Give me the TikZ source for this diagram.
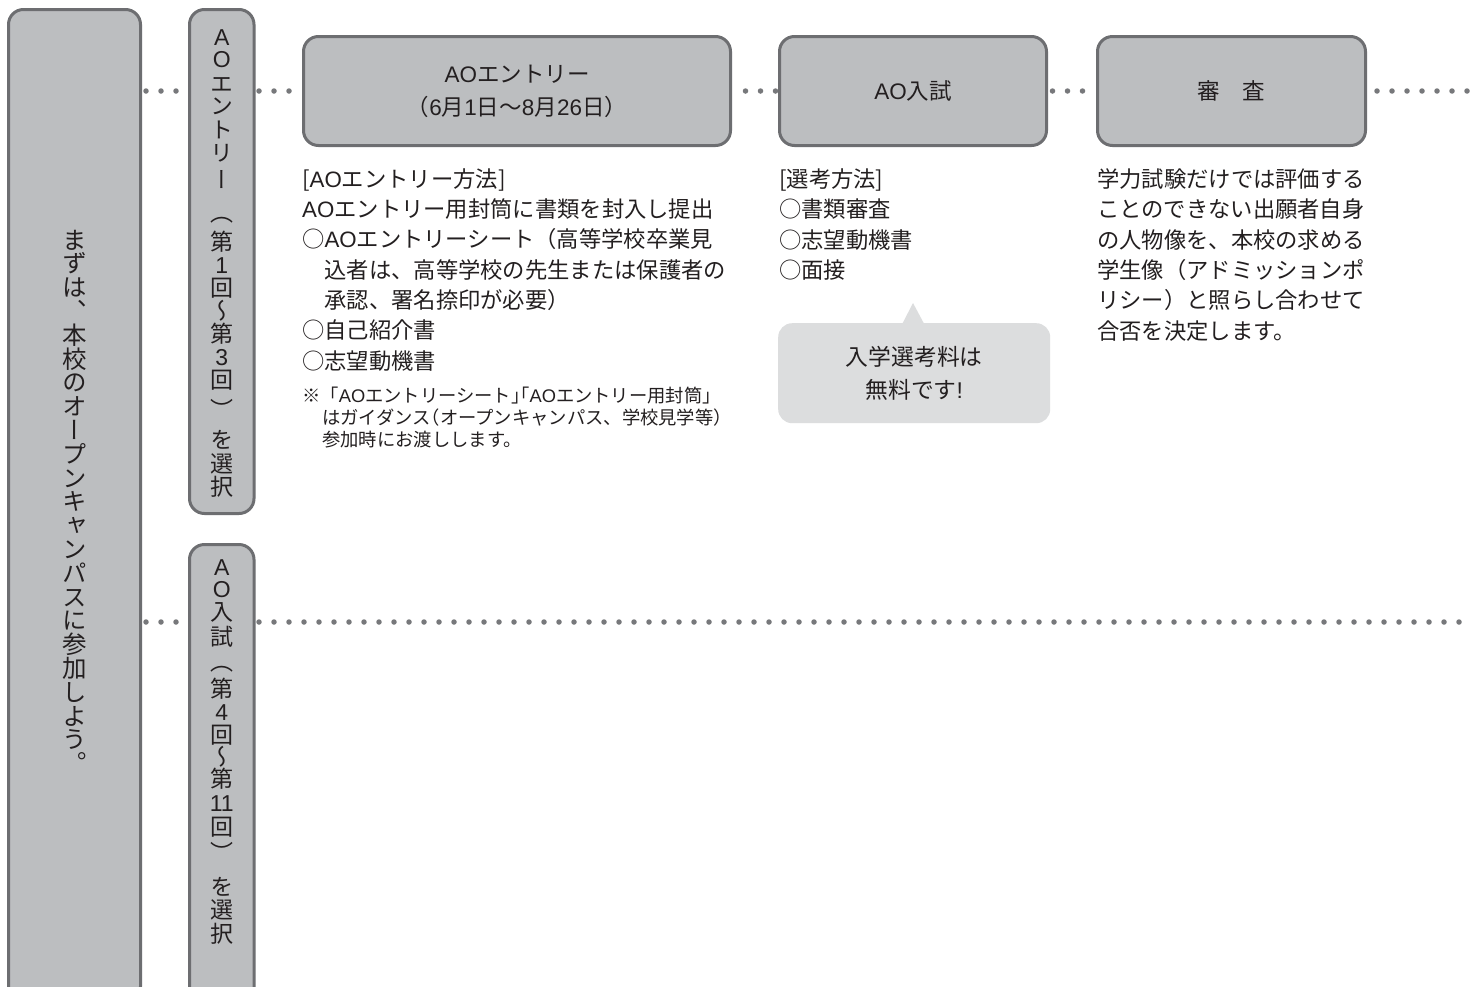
\documentclass[tikz,border=0pt]{standalone}
\usepackage{fontspec}
\setmainfont{Noto Sans CJK JP}
\newfontfamily\jpvert[RawFeature=+vert]{Noto Sans CJK JP}
\newfontfamily\jphalt[RawFeature=+halt]{Noto Sans CJK JP}
\newfontfamily\latfont{Liberation Sans}
\newcommand\la[1]{{\latfont #1}}
\newcommand\hw[1]{{\jphalt #1}}
\usetikzlibrary{calc,backgrounds}
\definecolor{boxfill}{HTML}{BCBEC0}
\definecolor{boxline}{HTML}{6D6E71}
\definecolor{dotc}{HTML}{77787B}
\definecolor{bubblec}{HTML}{DCDDDE}
\definecolor{ink}{HTML}{231F20}
\tikzset{
  box/.style={draw=boxline, fill=boxfill, line width=3pt, rounded corners=15pt,
    inner sep=0pt, anchor=north west, align=center, text=ink,
    font=\fontsize{22.5pt}{33pt}\selectfont},
  dotline/.style={draw=dotc, line width=5.5pt, line cap=round, dash pattern=on 0pt off 15pt},
  body/.style={font=\fontsize{22.3pt}{30.3pt}\selectfont, text=ink, align=left,
    inner sep=0pt, anchor=base west},
  notetext/.style={font=\fontsize{18.3pt}{22pt}\selectfont, text=ink, align=left,
    inner sep=0pt, anchor=base west},
  vchar/.style={font=\jpvert\fontsize{23pt}{23pt}\selectfont, text=ink,
    inner sep=0pt, text height=17pt, text depth=0pt, anchor=center},
  vbig/.style={vchar, font=\jpvert\fontsize{24.5pt}{24.5pt}\selectfont,
    text height=20.5pt, text depth=2.5pt},
  bubble/.style={fill=bubblec, rounded corners=14pt, inner sep=0pt, anchor=north west,
    align=center, text=ink, font=\fontsize{22.8pt}{33pt}\selectfont}
}
\begin{document}
\begin{tikzpicture}[x=1pt,y=-1pt]
\useasboundingbox (0,0) rectangle (1470,986);
% boxes
\node[box, minimum width=132pt, minimum height=992pt] (left) at (7,8) {};
\node[box, minimum width=64.5pt, minimum height=504pt] (v1) at (188,8) {};
\node[box, minimum width=64.5pt, minimum height=460pt] (v2) at (188,543) {};
\node[box, minimum width=427pt, minimum height=109pt] (entry) at (302,35) {\la{AO}エントリー\\（\la{6}月\la{1}日〜\la{8}月\la{26}日）};
\node[box, minimum width=267pt, minimum height=109pt] (exam) at (778,35) {\la{AO}入試};
\node[box, minimum width=268pt, minimum height=109pt] (review) at (1096,35) {審　査};
\coordinate (topend) at (1472,91);
\coordinate (lowend) at (1472,622);
% dotted connectors
\begin{pgfonlayer}{background}
\fill[white] (0,0) rectangle (1470,986);
\draw[dotline, dash phase=11pt] (left.east |- exam.west) -- (v1.west |- exam.west);
\draw[dotline, dash phase=11.5pt] (v1.east |- exam.west) -- (entry.west);
\draw[dotline, dash phase=1.5pt] (entry.east) -- (exam.west);
\draw[dotline, dash phase=10.5pt] (exam.east) -- (review.west);
\draw[dotline, dash phase=5pt] (review.east) -- (topend);
\draw[dotline, dash phase=11pt] (left.east |- lowend) -- (v2.west |- lowend);
\draw[dotline, dash phase=11.5pt] (v2.east |- lowend) -- (lowend);
\end{pgfonlayer}
% vertical texts
\foreach \c [count=\i] in {ま,ず,は,、,本,校,の,オ,ー,プ,ン,キ,ャ,ン,パ,ス,に,参,加,し,よ,う,。}
  \node[vbig, name=vl\i] at (74.5, {240+(\i-1)*23.8}) {\c};
\foreach \c/\y [count=\i] in {\la{A}/37,\la{O}/59,エ/84,ン/106,ト/130,リ/153,ー/180,（/213,第/242,\la{1}/265,回/288,〜/311,第/334,\la{3}/357,回/380,）/410,を/440,選/464,択/487}
  \node[vchar, name=va\i] at (221.75,\y) {\c};
\foreach \c/\y [count=\i] in {\la{A}/567,\la{O}/589,入/612,試/637,（/662,第/689,\la{4}/712,回/735,〜/757,第/779,\la{11}/803,回/827,）/853,を/887,選/910,択/934}
  \node[vchar, name=vb\i] at (221.75,\y) {\c};
% body texts (anchor = baseline of the last line)
\node[body] (entrytxt) at (302,369) {[\la{AO}エントリー方法]\\\la{AO}エントリー用封筒に書類を封入し提出\\○\la{AO}エントリーシート（高等学校卒業見\\\hspace*{1em}込者は、高等学校の先生または保護者の\\\hspace*{1em}承認、署名捺印が必要）\\○自己紹介書\\○志望動機書};
\node[notetext] (note) at (302,446) {※「\la{AO}エントリーシート\hw{」「}\la{AO}エントリー用封筒」\\\hspace*{1.1em}はガイダンス\hw{（}オープンキャンパス、学校見学等\hw{）}\\\hspace*{1.1em}参加時にお渡しします。};
\node[body] (examtxt) at (779,278.4) {[選考方法]\\○書類審査\\○志望動機書\\○面接};
\node[body] (reviewtxt) at (1097,339) {学力試験だけでは評価する\\ことのできない出願者自身\\の人物像を、本校の求める\\学生像（アドミッションポ\\リシー）と照らし合わせて\\合否を決定します。};
% speech bubble
\node[bubble, minimum width=272pt, minimum height=100pt] (bubble) at (778,323) {入学選考料は\\無料です\la{!}};
\coordinate (tip) at (913,303);
\fill[bubblec] ($(bubble.north)+(-12,1)$) -- (tip) -- ($(bubble.north)+(10,1)$) -- cycle;
\end{tikzpicture}
\end{document}
